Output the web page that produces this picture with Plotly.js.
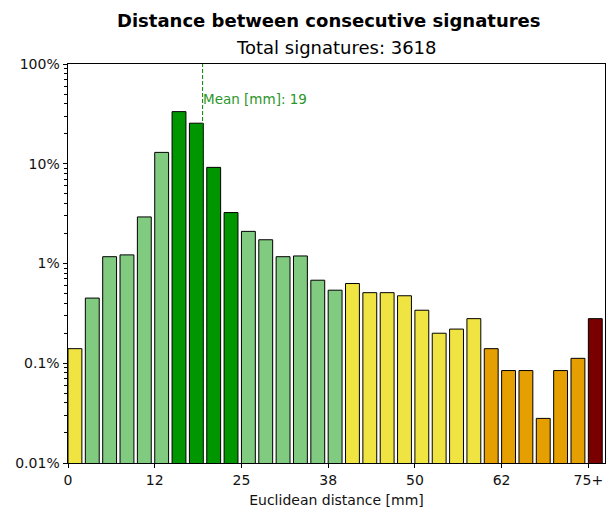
<!DOCTYPE html>
<html>
<head>
<meta charset="utf-8">
<script src="https://cdn.plot.ly/plotly-3.0.1.min.js"></script>
<style>html,body{margin:0;padding:0;background:#fff;}#chart{width:608px;height:510px;}</style>
</head>
<body>
<div id="chart"></div>
<script>
// Bin start (mm), bin width 2.5 mm; last bin is "75+"
const binStart = [0, 2.5, 5, 7.5, 10, 12.5, 15, 17.5, 20, 22.5, 25, 27.5, 30, 32.5, 35, 37.5,
                  40, 42.5, 45, 47.5, 50, 52.5, 55, 57.5, 60, 62.5, 65, 67.5, 70, 72.5, 75];
// Share of signatures per bin (%)
const sharePct = [0.14, 0.45, 1.17, 1.22, 2.93, 13.0, 33.3, 25.5, 9.2, 3.24, 2.1, 1.73, 1.17, 1.19, 0.68, 0.54,
                  0.63, 0.51, 0.51, 0.475, 0.34, 0.2, 0.22, 0.28, 0.14, 0.0845, 0.0845, 0.028, 0.0845, 0.112, 0.28];
// Colour class per bin
const binClass = ['y','lg','lg','lg','lg','lg','dg','dg','dg','dg','lg','lg','lg','lg','lg','lg',
                  'y','y','y','y','y','y','y','y','o','o','o','o','o','o','r'];
const classColor = {y:'#f0e442', lg:'#80cb80', dg:'#009600', o:'#e69f00', r:'#7a0000'};

const xTickVals = [0, 12.5, 25, 37.5, 50, 62.5, 75];
const xTickText = ['0', '12', '25', '38', '50', '62', '75+'];
const yTickVals = [0.01, 0.1, 1, 10, 100];
const yTickText = ['0.01%', '0.1%', '1%', '10%', '100%'];
const yMinorVals = [];
[0.01, 0.1, 1, 10].forEach(d => { for (let m = 2; m <= 9; m++) yMinorVals.push(d * m); });

const meanMm = 19.4;
const totalSignatures = 3618;
const barWidth = 2;

const trace = {
  type: 'bar',
  x: binStart.map(v => v + barWidth / 2),
  y: sharePct,
  width: binStart.map(() => barWidth),
  marker: {color: binClass.map(c => classColor[c]), line: {color: '#000', width: 1}},
  hoverinfo: 'x+y'
};

const font = 'DejaVu Sans, sans-serif';
const layout = {
  width: 608, height: 510,
  margin: {l: 68, r: 3, t: 64, b: 47},
  paper_bgcolor: '#fff', plot_bgcolor: '#fff',
  font: {family: font, size: 14, color: '#000'},
  showlegend: false,
  bargap: 0,
  xaxis: {
    range: [0, 77.4], showgrid: false, zeroline: false,
    showline: true, linecolor: '#000', linewidth: 1, mirror: true,
    ticks: 'outside', ticklen: 4, tickcolor: '#000',
    tickmode: 'array', tickvals: xTickVals, ticktext: xTickText,
    tickfont: {family: font, size: 14, color: '#111'},
    title: {text: 'Euclidean distance [mm]', font: {family: font, size: 14, color: '#111'}, standoff: 8}
  },
  yaxis: {
    type: 'log', range: [-2, 2], showgrid: false, zeroline: false,
    showline: true, linecolor: '#000', linewidth: 1, mirror: true,
    ticks: 'outside', ticklen: 4.5, tickcolor: '#000',
    tickmode: 'array', tickvals: yTickVals, ticktext: yTickText,
    tickfont: {family: font, size: 14, color: '#111'},
    minor: {ticks: 'outside', ticklen: 3, tickcolor: '#000', tickmode: 'array', tickvals: yMinorVals, showgrid: false}
  },
  shapes: [{
    type: 'line', xref: 'x', yref: 'paper', x0: meanMm, x1: meanMm, y0: 0, y1: 1,
    line: {color: '#008000', width: 1, dash: '4px,2px'}
  }],
  annotations: [
    {text: '<b>Distance between consecutive signatures</b>', xref: 'paper', yref: 'paper',
     x: 0.486, y: 1.110, xanchor: 'center', yanchor: 'middle', showarrow: false,
     font: {family: font, size: 18, color: '#000'}},
    {text: 'Total signatures: ' + totalSignatures, xref: 'paper', yref: 'paper',
     x: 0.5, y: 1.0426, xanchor: 'center', yanchor: 'middle', showarrow: false,
     font: {family: font, size: 18, color: '#000'}},
    {text: 'Mean [mm]: ' + Math.round(meanMm), xref: 'x', yref: 'paper',
     x: meanMm, y: 0.912, xanchor: 'left', yanchor: 'middle', showarrow: false, xshift: -2,
     font: {family: font, size: 13.5, color: '#2a962a'}}
  ]
};

Plotly.newPlot('chart', [trace], layout, {displayModeBar: false, staticPlot: true});
</script>
</body>
</html>
